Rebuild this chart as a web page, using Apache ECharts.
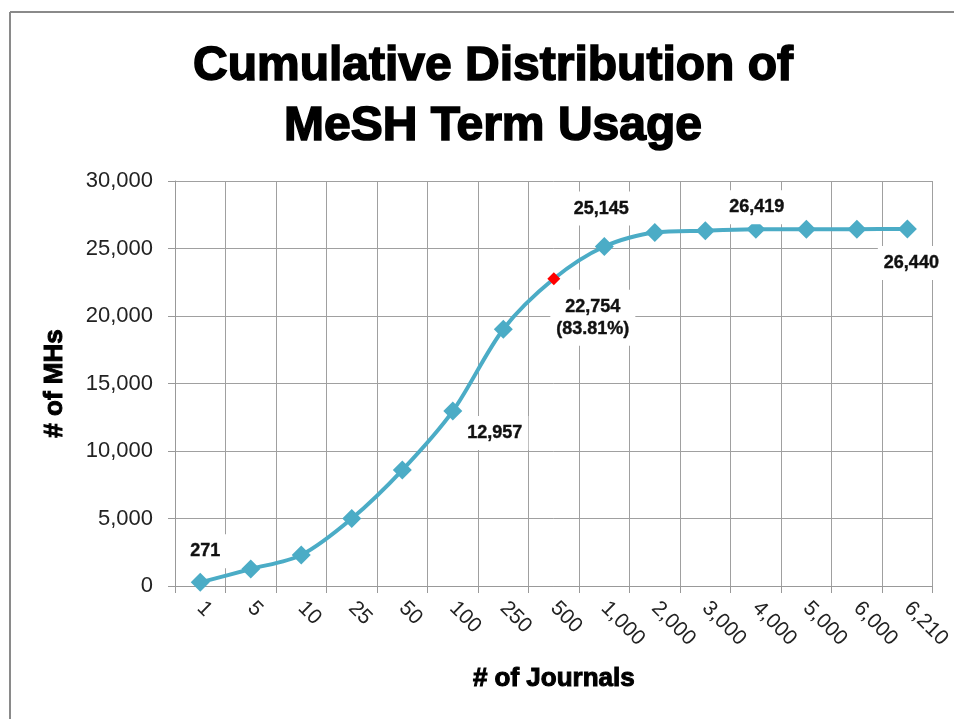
<!DOCTYPE html>
<html>
<head>
<meta charset="utf-8">
<script src="https://cdn.jsdelivr.net/npm/echarts@6/dist/echarts.min.js"></script>
<style>html,body{margin:0;padding:0;background:#fff}#c{width:954px;height:719px}</style>
</head>
<body>
<div id="c"></div>
<script>
const categories = ['1','5','10','25','50','100','250','500','1,000','2,000','3,000','4,000','5,000','6,000','6,210'];
const values = [271, 1258, 2300, 5000, 8590, 12957, 19020, 22754, 25145, 26190, 26320, 26419, 26425, 26435, 26440];
const yTicks = {min: 0, max: 30000, interval: 5000};
const labelledPoints = [0, 5, 7, 8, 11, 14];
const labelTexts = ['271', '12,957', '22,754\n(83.81%)', '25,145', '26,419', '26,440'];
const highlightIndex = 7;

const labelOffsets = {0: [5, -31], 5: [42, 22], 7: [39, 39], 8: [-3, -38], 11: [1, -22], 14: [4, 34]};
const FONT = 'Liberation Sans, Arial, sans-serif';

const data = values.map((v, i) => {
  const item = {value: v};
  const li = labelledPoints.indexOf(i);
  if (li >= 0) {
    item.label = {
      show: true, position: 'inside', offset: labelOffsets[i],
      formatter: labelTexts[li], fontSize: 18, fontWeight: 'bold', color: '#111',
      fontFamily: FONT, backgroundColor: '#fff', padding: [6, 6], lineHeight: 22,
      textBorderColor: '#111', textBorderWidth: 0.4
    };
  }
  if (i === highlightIndex) {
    item.symbolSize = 13;
    item.itemStyle = {color: '#ff0000'};
  }
  return item;
});

const chart = echarts.init(document.getElementById('c'));
chart.setOption({
  animation: false,
  backgroundColor: '#fff',
  title: {
    text: 'Cumulative Distribution of\nMeSH Term Usage',
    left: 488, top: 32, textAlign: 'center',
    textStyle: {fontSize: 48, fontWeight: 'bold', lineHeight: 60, color: '#000', fontFamily: FONT,
      textBorderColor: '#000', textBorderWidth: 1.6}
  },
  graphic: [
    {type: 'line', shape: {x1: 10, y1: 12, x2: 954, y2: 12}, style: {stroke: '#8a8a8a', lineWidth: 2}},
    {type: 'line', shape: {x1: 10, y1: 12, x2: 10, y2: 719}, style: {stroke: '#8a8a8a', lineWidth: 2}}
  ],
  grid: {left: 175, right: 19, top: 181, bottom: 133},
  xAxis: {
    type: 'category', data: categories, boundaryGap: true,
    name: '# of Journals', nameLocation: 'middle', nameGap: 80,
    nameTextStyle: {fontSize: 26, fontWeight: 'bold', color: '#000', fontFamily: FONT,
      textBorderColor: '#000', textBorderWidth: 1},
    axisLine: {lineStyle: {color: '#999', width: 1}},
    axisTick: {show: true, length: 7, lineStyle: {color: '#999'}},
    axisLabel: {rotate: -45, fontSize: 21, color: '#222', fontFamily: FONT, margin: 19},
    splitLine: {show: true, lineStyle: {color: '#a0a0a0', width: 1}}
  },
  yAxis: {
    type: 'value', min: yTicks.min, max: yTicks.max, interval: yTicks.interval,
    name: '# of MHs', nameLocation: 'middle', nameGap: 107, nameRotate: 90,
    nameTextStyle: {fontSize: 26, fontWeight: 'bold', color: '#000', fontFamily: FONT,
      textBorderColor: '#000', textBorderWidth: 1},
    axisLine: {show: true, lineStyle: {color: '#999', width: 1}},
    axisTick: {show: true, length: 7, lineStyle: {color: '#999'}},
    axisLabel: {fontSize: 22, color: '#222', fontFamily: FONT, margin: 22,
      formatter: v => v.toLocaleString('en-US')},
    splitLine: {show: true, lineStyle: {color: '#a0a0a0', width: 1}}
  },
  series: [{
    type: 'line', data: data, smooth: 0.3,
    symbol: 'diamond', symbolSize: 19,
    lineStyle: {color: '#4BACC6', width: 4},
    itemStyle: {color: '#4BACC6'},
    label: {show: false}
  }]
});
</script>
</body>
</html>
